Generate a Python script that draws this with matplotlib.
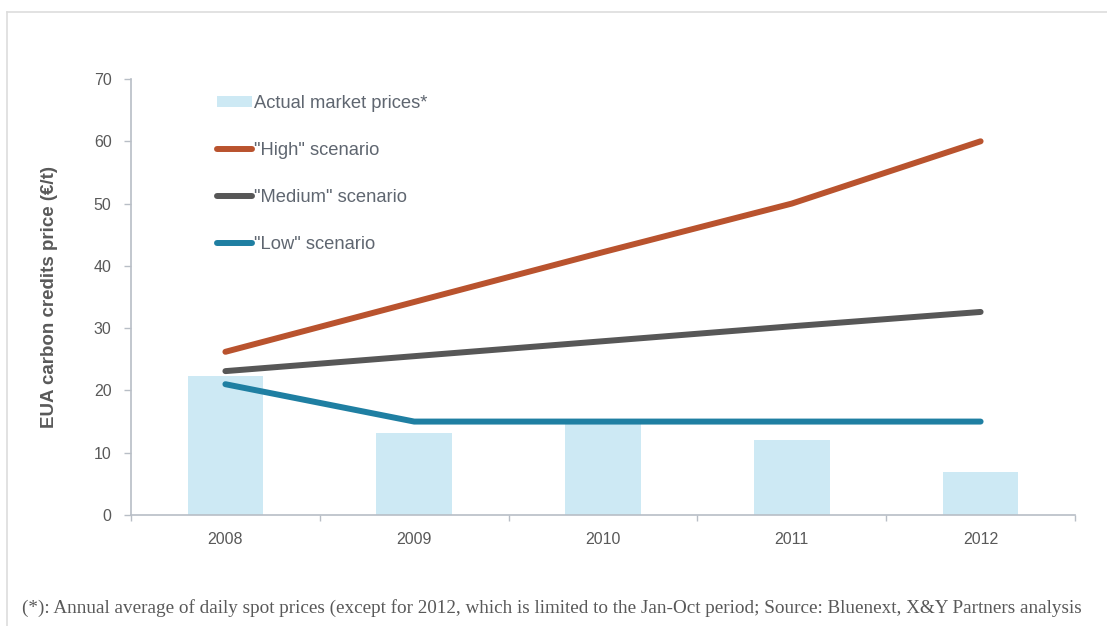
import numpy as np
import matplotlib.pyplot as plt
from matplotlib.lines import Line2D
from matplotlib.patches import Patch

plt.rcParams["font.family"] = ["Liberation Sans", "DejaVu Sans"]

years = ["2008", "2009", "2010", "2011", "2012"]
actual_prices = [22.3, 13.2, 14.7, 12.0, 6.9]
high_scenario = [26.2, 34.2, 42.2, 50.0, 60.0]
medium_scenario = [23.1, 25.5, 27.9, 30.3, 32.6]
low_scenario = [21.0, 15.0, 15.0, 15.0, 15.0]

bar_color = "#cde9f4"
high_color = "#b9532e"
medium_color = "#575757"
low_color = "#1f7fa2"
text_color = "#595959"
legend_text_color = "#5f6670"
axis_color = "#b8bec6"

fig = plt.figure(figsize=(11.07, 6.26), dpi=100)
ax = fig.add_axes([131 / 1107, 111 / 626, 944 / 1107, 436 / 626])

x = np.arange(len(years))
ax.bar(x, actual_prices, width=0.4, color=bar_color, zorder=1)
lw = 4.3
ax.plot(x, high_scenario, color=high_color, lw=lw, solid_capstyle="round", zorder=3)
ax.plot(x, medium_scenario, color=medium_color, lw=lw, solid_capstyle="round", zorder=3)
ax.plot(x, low_scenario, color=low_color, lw=lw, solid_capstyle="round", zorder=3)

ax.set_xlim(-0.5, 4.5)
ax.set_ylim(0, 70)
ax.set_yticks(range(0, 71, 10))
ax.set_xticks(x)
ax.set_xticklabels(years)
ax.set_xticks(np.arange(-0.5, 4.6, 1), minor=True)
ax.tick_params(axis="x", which="major", length=0, pad=12, labelsize=11.5, labelcolor=text_color)
ax.tick_params(axis="x", which="minor", length=4, color=axis_color, width=1)
ax.tick_params(axis="y", length=5, color=axis_color, width=1, pad=9,
               labelsize=11.5, labelcolor=text_color)

for side in ["top", "right"]:
    ax.spines[side].set_visible(False)
for side in ["left", "bottom"]:
    ax.spines[side].set_color(axis_color)
    ax.spines[side].set_linewidth(1.2)

ax.set_ylabel("EUA carbon credits price (€/t)", fontsize=13.5, fontweight="bold",
              color=text_color, labelpad=26)

handles = [
    Patch(facecolor=bar_color, edgecolor="none"),
    Line2D([], [], color=high_color, lw=lw, solid_capstyle="round"),
    Line2D([], [], color=medium_color, lw=lw, solid_capstyle="round"),
    Line2D([], [], color=low_color, lw=lw, solid_capstyle="round"),
]
labels = ["Actual market prices*", '"High" scenario', '"Medium" scenario', '"Low" scenario']
leg = ax.legend(handles, labels, loc="upper left", bbox_to_anchor=(0.083, 0.98),
                frameon=False, fontsize=13.2, labelspacing=1.63, handlelength=1.95,
                handletextpad=0.1, handleheight=0.5, borderaxespad=0)
for t in leg.get_texts():
    t.set_color(legend_text_color)

# outer frame lines
fig.add_artist(Line2D([7 / 1107, 7 / 1107], [0, 1 - 12 / 626], color="#dddddd", lw=1.2))
fig.add_artist(Line2D([7 / 1107, 1], [1 - 12 / 626, 1 - 12 / 626], color="#dddddd", lw=1.2))

fig.text(22 / 1107, 1 - 608 / 626,
         "(*): Annual average of daily spot prices (except for 2012, which is limited to the "
         "Jan-Oct period; Source: Bluenext, X&Y Partners analysis",
         fontsize=13.8, family="Liberation Serif", color=text_color, va="center", ha="left")

fig.savefig("out.png", dpi=100)
